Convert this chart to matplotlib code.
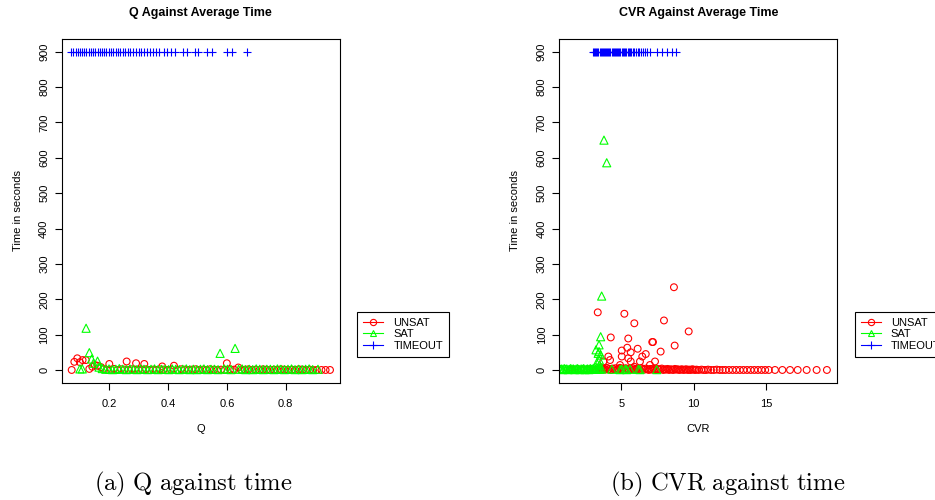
import matplotlib
matplotlib.use('Agg')
import matplotlib.pyplot as plt
from matplotlib.lines import Line2D

plt.rcParams['font.family'] = ['Liberation Sans', 'DejaVu Sans']
plt.rcParams['mathtext.fontset'] = 'cm'

# ---- panel (a): Q against time ----
q_timeout = [0.070, 0.078, 0.085, 0.092, 0.100, 0.108, 0.114, 0.122, 0.130, 0.137,
             0.145, 0.152, 0.160, 0.168, 0.175, 0.183, 0.190, 0.198, 0.206, 0.214,
             0.222, 0.230, 0.238, 0.246, 0.255, 0.263, 0.272, 0.280, 0.290, 0.300,
             0.309, 0.318, 0.328, 0.338, 0.350, 0.360, 0.370, 0.385, 0.398, 0.410,
             0.423, 0.451, 0.463, 0.491, 0.502, 0.531, 0.548, 0.599, 0.616, 0.667]
t_q_timeout = [900] * len(q_timeout)

q_unsat = [0.072, 0.081, 0.091, 0.100, 0.109, 0.120, 0.132, 0.142, 0.151, 0.160,
           0.172, 0.200, 0.259, 0.291, 0.319, 0.380, 0.420, 0.600, 0.639,
           0.180, 0.192, 0.205, 0.216, 0.228, 0.240, 0.252, 0.265, 0.277, 0.288,
           0.300, 0.312, 0.325, 0.337, 0.349, 0.360, 0.372, 0.385, 0.397, 0.410,
           0.432, 0.445, 0.457, 0.470, 0.482, 0.494, 0.506, 0.519, 0.531, 0.543,
           0.556, 0.568, 0.580, 0.592, 0.612, 0.625, 0.650, 0.662, 0.674, 0.686,
           0.698, 0.711, 0.723, 0.735, 0.747, 0.760, 0.772, 0.784, 0.796, 0.809,
           0.821, 0.833, 0.845, 0.858, 0.870, 0.882, 0.894, 0.906, 0.922, 0.936, 0.951]
t_unsat_q = [0, 23, 33, 22, 28, 28, 3, 9, 14, 12,
             8, 17, 24, 19, 17, 10, 12, 19, 7,
             2, 0, 1, 3, 0, 2, 1, 0, 2, 1,
             0, 1, 2, 0, 1, 0, 2, 1, 0, 1,
             0, 2, 1, 0, 1, 2, 0, 1, 0, 2,
             1, 0, 1, 0, 2, 1, 0, 1, 2, 0,
             1, 0, 2, 1, 0, 1, 0, 2, 1, 0,
             1, 0, 2, 1, 0, 1, 0, 0, 0, 0, 0]

q_sat = [0.100, 0.108, 0.121, 0.132, 0.140, 0.146, 0.160, 0.577, 0.628,
         0.165, 0.176, 0.188, 0.199, 0.211, 0.222, 0.234, 0.246, 0.258, 0.270,
         0.282, 0.294, 0.306, 0.318, 0.330, 0.342, 0.354, 0.366, 0.378, 0.390,
         0.402, 0.414, 0.426, 0.438, 0.450, 0.462, 0.474, 0.486, 0.498, 0.510,
         0.522, 0.534, 0.546, 0.558, 0.570, 0.590, 0.602, 0.614, 0.640, 0.652,
         0.664, 0.676, 0.688, 0.700, 0.712, 0.724, 0.736, 0.748, 0.760, 0.772,
         0.784, 0.796, 0.808, 0.820, 0.832, 0.844, 0.856, 0.868, 0.880, 0.892, 0.910]
t_sat_q = [3, 3, 118, 49, 31, 19, 25, 47, 61,
           8, 4, 2, 3, 1, 2, 4, 2, 1, 3,
           2, 1, 3, 2, 1, 2, 3, 1, 2, 2,
           1, 3, 2, 1, 2, 3, 1, 2, 1, 2,
           3, 1, 2, 2, 1, 3, 2, 1, 2, 3,
           1, 2, 1, 3, 2, 1, 2, 2, 1, 3,
           2, 1, 2, 3, 1, 2, 1, 2, 3, 1, 2]

# ---- panel (b): CVR against time ----
cvr_timeout = [3.06, 3.12, 3.20, 3.28, 3.35, 3.42, 3.50, 3.58, 3.65, 3.72,
               3.80, 3.88, 3.95, 4.02, 4.10, 4.18, 4.25, 4.33, 4.40, 4.48,
               4.55, 4.63, 4.70, 4.78, 4.86, 4.94, 5.02, 5.10, 5.18, 5.27,
               5.35, 5.44, 5.52, 5.61, 5.70, 5.80, 5.90, 6.00, 6.12, 6.25,
               6.38, 6.52, 6.66, 6.80, 6.98, 7.45, 7.79, 8.14, 8.49, 8.78]
t_c_timeout = [900] * len(cvr_timeout)

cvr_unsat = [8.64, 3.37, 5.21, 5.90, 7.95, 9.66, 4.27, 5.48, 7.19, 7.14,
             8.69, 5.03, 5.41, 5.65, 6.13, 7.72, 6.69, 6.45, 5.03, 4.10,
             4.22, 5.48, 5.65, 6.29, 7.33, 6.98, 3.76, 4.91, 5.90,
             1.42, 1.60, 1.80, 2.00, 2.20, 2.40, 2.60, 2.80, 3.00, 3.20,
             3.40, 3.50, 3.60, 3.70, 3.80, 3.90, 4.00, 4.10, 4.20, 4.30,
             4.40, 4.50, 4.60, 4.70, 4.80, 4.90, 5.00, 5.10, 5.20, 5.30,
             5.40, 5.50, 5.60, 5.70, 5.80, 5.90, 6.00, 6.10, 6.20, 6.30,
             6.40, 6.50, 6.60, 6.70, 6.80, 6.90, 7.00, 7.10, 7.20, 7.30,
             7.40, 7.50, 7.60, 7.70, 7.80, 7.90, 8.00, 8.10, 8.20, 8.30,
             8.40, 8.50, 8.60, 8.70, 8.80, 8.90, 9.00, 9.10, 9.20, 9.30,
             9.40, 9.50, 9.60, 9.70, 9.80, 9.90, 10.00, 10.10, 10.20, 10.35,
             10.55, 10.70, 10.85, 11.00, 11.20, 11.40, 11.60, 11.80, 12.00, 12.20,
             12.45, 12.70, 12.95, 13.20, 13.45, 13.70, 13.95, 14.20, 14.45, 14.70,
             14.95, 15.20, 15.63, 16.14, 16.67, 17.20, 17.82, 18.51, 19.22]
t_unsat_c = [234, 163, 159, 132, 140, 109, 92, 89, 79, 79,
             69, 55, 63, 50, 60, 52, 45, 38, 38, 38,
             28, 33, 24, 24, 24, 14, 24, 14, 9,
             0, 1, 0, 2, 0, 1, 0, 2, 1, 0,
             3, 1, 5, 2, 4, 1, 6, 2, 3, 0,
             4, 2, 5, 1, 3, 6, 2, 4, 1, 5,
             3, 0, 4, 2, 5, 1, 3, 4, 2, 0,
             5, 3, 1, 4, 2, 0, 3, 1, 4, 2,
             0, 3, 1, 2, 4, 0, 2, 1, 3, 0,
             2, 1, 0, 3, 1, 2, 0, 1, 2, 0,
             1, 2, 0, 1, 0, 2, 1, 0, 1, 0,
             1, 0, 0, 1, 0, 0, 1, 0, 0, 0,
             0, 0, 0, 0, 0, 0, 0, 0, 0, 0,
             0, 0, 0, 0, 0, 0, 0, 0, 0]

cvr_sat = [3.80, 3.99, 3.64, 3.57, 3.46, 3.25, 3.46, 3.57, 3.40, 3.48, 3.50, 3.30,
           0.80, 0.88, 0.96, 1.05, 1.14, 1.23, 1.32, 1.41, 1.50, 1.59,
           1.68, 1.77, 1.86, 1.95, 2.04, 2.13, 2.22, 2.31, 2.40, 2.49,
           2.58, 2.67, 2.76, 2.85, 2.94, 3.03, 3.12, 3.21, 3.30, 3.38,
           3.45, 3.53, 3.06, 3.64, 4.34, 4.91, 5.03, 5.26, 5.37, 5.60,
           6.18, 6.29, 7.45]
t_sat_c = [650, 586, 209, 94, 71, 57, 52, 42, 47, 28, 14, 20,
           2, 3, 1, 4, 2, 3, 1, 2, 4, 2,
           3, 1, 2, 4, 2, 1, 3, 2, 4, 1,
           2, 3, 1, 4, 2, 3, 5, 2, 6, 3,
           4, 2, 2, 3, 2, 1, 2, 2, 1, 2,
           2, 1, 1]

RED, GREEN, BLUE = '#FF0000', '#00FF00', '#0000FF'

fig = plt.figure(figsize=(9.35, 5.0), dpi=100)
ax1 = fig.add_axes([61.7 / 935, 1 - 382.7 / 500, 278.3 / 935, 343.7 / 500])
ax2 = fig.add_axes([559.3 / 935, 1 - 382.7 / 500, 278.0 / 935, 343.7 / 500])


def draw(ax, xu, tu, xs, ts, xt, tt, xlim, xticks, title, xlabel):
    ax.scatter(xu, tu, s=24, marker='o', facecolors='none', edgecolors=RED, linewidths=0.8)
    ax.scatter(xs, ts, s=34, marker='^', facecolors='none', edgecolors=GREEN, linewidths=0.8)
    ax.scatter(xt, tt, s=40, marker='+', color=BLUE, linewidths=0.8)
    ax.set_xlim(*xlim)
    ax.set_ylim(-36, 936)
    ax.set_xticks(xticks)
    ax.set_yticks(range(0, 901, 100))
    ax.tick_params(direction='out', length=5, width=0.8, labelsize=8)
    ax.tick_params(axis='x', pad=6.5)
    ax.tick_params(axis='y', labelrotation=90, pad=4)
    for lbl in ax.get_yticklabels():
        lbl.set_va('center')
    for sp in ax.spines.values():
        sp.set_linewidth(0.8)
    ax.set_title(title, fontsize=9, fontweight='bold', pad=16.5)
    ax.set_xlabel(xlabel, fontsize=8, labelpad=11)
    ax.set_ylabel('Time in seconds', fontsize=8, labelpad=12)
    handles = [
        Line2D([0], [0], color=RED, lw=0.8, marker='o', mfc='none', ms=4.5, mew=0.8),
        Line2D([0], [0], color=GREEN, lw=0.8, marker='^', mfc='none', ms=5, mew=0.8),
        Line2D([0], [0], color=BLUE, lw=0.8, marker='+', ms=6, mew=0.8),
    ]
    leg = ax.legend(handles, ['UNSAT', 'SAT', 'TIMEOUT'], loc='upper left',
                    bbox_to_anchor=(1.062, 0.207), fontsize=8, frameon=True,
                    fancybox=False, edgecolor='black', framealpha=1,
                    handlelength=1.8, handletextpad=0.9, borderpad=0.55,
                    borderaxespad=0, labelspacing=0.15)
    leg.get_frame().set_linewidth(0.8)


draw(ax1, q_unsat, t_unsat_q, q_sat, t_sat_q, q_timeout, t_q_timeout,
     (0.038, 0.985), [0.2, 0.4, 0.6, 0.8], 'Q Against Average Time', 'Q')
draw(ax2, cvr_unsat, t_unsat_c, cvr_sat, t_sat_c, cvr_timeout, t_c_timeout,
     (0.71, 19.94), [5, 10, 15], 'CVR Against Average Time', 'CVR')

fig.text(193 / 935, 1 - 484 / 500, r'$\mathrm{(a)\ Q\ against\ time}$',
         fontsize=17.8, ha='center', va='center')
fig.text(728 / 935, 1 - 484 / 500, r'$\mathrm{(b)\ CVR\ against\ time}$',
         fontsize=17.8, ha='center', va='center')

fig.savefig('out.png', dpi=100)
